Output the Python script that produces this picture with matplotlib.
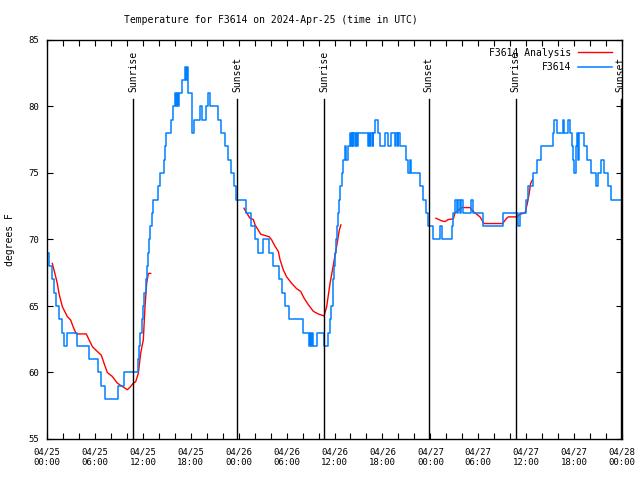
import numpy as np
import matplotlib
matplotlib.use("Agg")
import matplotlib.pyplot as plt

# hours since 2024-04-25 00:00 UTC and observed temperature (deg F)
obs_hr = [0.0, 0.25, 0.6, 0.9, 1.1, 1.45, 1.85, 2.1, 2.45, 3.7, 5.2, 6.4, 6.75, 7.3, 8.9, 9.6,
          11.4, 11.55, 11.7, 11.85, 12.0, 12.15, 12.4, 12.5, 12.65, 12.8, 12.9, 13.1, 13.25, 13.95,
          14.1, 14.7, 14.8, 14.95, 15.5, 15.75, 16.0, 16.15, 16.3, 16.45, 16.55, 16.9, 17.25, 17.4,
          17.5, 17.65, 18.2, 18.35, 19.15, 19.35, 19.9, 20.1, 20.4, 21.35, 21.85, 22.3, 22.7, 23.0,
          23.4, 23.7, 24.95, 25.5, 26.0, 26.45, 27.1, 27.85, 28.3, 29.1, 29.4, 29.8, 30.3, 32.1,
          32.85, 32.97, 33.1, 33.23, 33.35, 33.85, 34.73, 35.2, 35.45, 35.6, 35.75, 35.85, 35.95,
          36.05, 36.15, 36.3, 36.45, 36.55, 36.7, 36.9, 37.1, 37.3, 37.5, 37.7, 37.9, 38.05, 38.15,
          38.3, 38.36, 38.57, 38.7, 38.85, 38.98, 40.15, 40.35, 40.5, 40.6, 40.8, 40.87, 41.05,
          41.45, 41.7, 42.33, 42.74, 43.1, 43.6, 43.75, 43.9, 44.0, 44.2, 45.0, 45.2, 45.4, 45.6,
          46.7, 47.1, 47.5, 47.75, 48.3, 49.2, 49.4, 50.67, 50.88, 51.09, 51.3, 51.5, 51.7, 51.9,
          52.13, 53.05, 53.38, 54.64, 57.14, 59.0, 59.23, 60.0, 60.25, 60.85, 61.3, 61.85, 63.3,
          63.5, 63.8, 64.55, 64.75, 65.28, 65.49, 65.7, 65.9, 66.03, 66.2, 66.32, 66.45, 66.66,
          67.24, 67.66, 68.08, 68.74, 69.04, 69.33, 69.75, 70.2, 70.63, 72.0]
obs_t = [69, 68, 67, 66, 65, 64, 63, 62, 63, 62, 61, 60, 59, 58, 59, 60,
         61, 62, 63, 64, 65, 66, 67, 68, 69, 70, 71, 72, 73, 74,
         75, 76, 77, 78, 79, 80, 81, 80, 81, 80, 81, 82, 83, 82,
         83, 81, 78, 79, 80, 79, 80, 81, 80, 79, 78, 77, 76, 75,
         74, 73, 72, 71, 70, 69, 70, 69, 68, 67, 66, 65, 64, 63,
         62, 63, 62, 63, 62, 63, 62, 63, 64, 65, 66, 67, 68,
         69, 70, 71, 72, 73, 74, 75, 76, 77, 76, 77, 78, 77, 78,
         77, 78, 77, 78, 77, 78, 77, 78, 77, 78, 77, 78, 79,
         78, 77, 78, 77, 78, 77, 78, 77, 78, 77, 76, 75, 76, 75,
         74, 73, 72, 71, 70, 71, 70, 71, 72, 73, 72, 73, 72, 73,
         72, 73, 72, 71, 72, 71, 72, 73, 74, 75, 76, 77, 78,
         79, 78, 79, 78, 79, 78, 77, 76, 75, 77, 78, 76, 78,
         77, 76, 75, 74, 75, 76, 75, 74, 73, 73]

# analysis series (three runs, gaps between them)
nan = float("nan")
ana_hr = [0.67, 1.09, 1.29, 1.5, 1.92, 2.55, 2.96, 3.26, 3.67, 4.92, 5.26, 5.68, 6.09, 6.8, 7.14,
          7.55, 8.18, 8.81, 9.43, 10.06, 10.48, 10.81, 11.1, 11.44, 11.73, 12.06, 12.27, 12.48,
          12.69, 12.98, nan,
          24.67, 25.0, 25.42, 25.84, 26.05, 26.46, 26.76, 27.84, 28.13, 28.55, 28.97, 29.17, 29.6,
          30.0, 30.64, 31.26, 31.76, 32.18, 32.72, 33.35, 33.97, 34.69, 35.02, 35.44, 35.86, 36.27,
          36.6, 36.8, nan,
          48.71, 49.42, 49.84, 50.25, 50.88, 51.09, 51.5, 51.92, 52.97, 53.38, 53.8, 54.22, 54.72,
          55.9, 57.06, 57.48, 57.77, 58.82, 59.24, 59.86, 60.14, 60.39, 60.55, 60.8]
ana_t = [68.2, 67.2, 66.7, 65.95, 64.95, 64.2, 63.95, 63.45, 62.9, 62.9, 62.46, 61.95, 61.7, 61.3, 60.7,
         60.0, 59.7, 59.2, 58.95, 58.7, 58.95, 59.2, 59.3, 59.95, 61.45, 62.46, 64.95, 66.7,
         67.45, 67.45, nan,
         72.35, 72.0, 71.6, 71.5, 71.1, 70.7, 70.4, 70.2, 69.97, 69.5, 69.1, 68.5, 67.7,
         67.2, 66.7, 66.3, 66.1, 65.6, 65.1, 64.6, 64.4, 64.25, 64.95, 66.7, 68.1, 69.5,
         70.7, 71.1, nan,
         71.6, 71.4, 71.35, 71.5, 71.55, 72.0, 72.2, 72.4, 72.4, 72.1, 71.9, 71.7, 71.2,
         71.2, 71.2, 71.55, 71.7, 71.7, 71.9, 72.0, 72.7, 73.5, 74.2, 74.5]

sun_hr = [10.77, 23.78, 34.67, 47.8, 58.7, 71.85]
sun_lbl = ["Sunrise", "Sunset", "Sunrise", "Sunset", "Sunrise", "Sunset"]

xtick_hr = [0, 6, 12, 18, 24, 30, 36, 42, 48, 54, 60, 66, 72]
xtick_lbl = ["04/25\n00:00", "04/25\n06:00", "04/25\n12:00", "04/25\n18:00",
             "04/26\n00:00", "04/26\n06:00", "04/26\n12:00", "04/26\n18:00",
             "04/27\n00:00", "04/27\n06:00", "04/27\n12:00", "04/27\n18:00",
             "04/28\n00:00"]

plt.rcParams['font.family'] = ['DejaVu Sans Mono']
plt.rcParams['font.size'] = 6.5

fig = plt.figure(figsize=(6.4, 4.8), dpi=100)
ax = fig.add_axes([47/640, 1 - 439/480, 575/640, 399/480])

ax.plot(ana_hr, ana_t, color='#ff0000', lw=1, label='F3614 Analysis')
ax.plot(obs_hr, obs_t, color='#0080ff', lw=1.1, drawstyle='steps-post', label='F3614')

# sunrise / sunset markers
for h, s in zip(sun_hr, sun_lbl):
    ax.axvline(h, ymin=0, ymax=0.852, color='black', lw=1)
    ax.text(h, 0.87, s, transform=ax.get_xaxis_transform(), rotation=90,
            ha='center', va='bottom', fontsize=7)

ax.set_xlim(0, 72)
ax.set_ylim(55, 85)
ax.set_xticks(xtick_hr)
ax.set_xticklabels(xtick_lbl)
ax.set_xticks(np.arange(0, 73, 2), minor=True)
ax.set_yticks([55, 60, 65, 70, 75, 80, 85])
ax.tick_params(which='both', direction='in', top=True, right=True, length=4, width=0.8)
ax.tick_params(axis='x', pad=6)
ax.tick_params(axis='y', pad=6)
for sp in ax.spines.values():
    sp.set_linewidth(1)

ax.set_ylabel('degrees F', labelpad=9, fontsize=7)
fig.text(271/640, 1 - 20/480, 'Temperature for F3614 on 2024-Apr-25 (time in UTC)',
         ha='center', va='center', fontsize=7)

ax.legend(loc='upper right', bbox_to_anchor=(0.992, 0.995), frameon=False, markerfirst=False,
          handlelength=3.5, handletextpad=0.6, labelspacing=0.45, borderaxespad=0.2, fontsize=7)

fig.savefig('out.png', dpi=100)
